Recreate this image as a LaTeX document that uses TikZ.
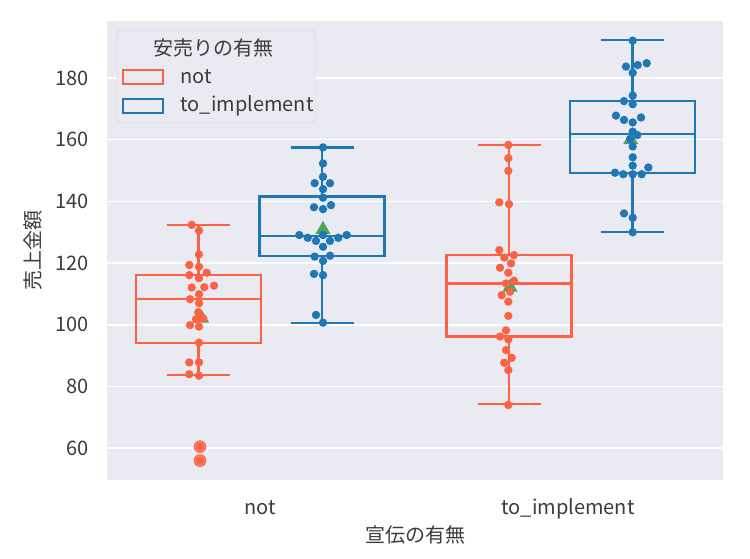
\documentclass[tikz,border=0pt]{standalone}
\usepackage{fontspec}
\setmainfont{Noto Sans CJK JP}
\definecolor{axbg}{RGB}{234,234,242}
\definecolor{txtgray}{RGB}{60,60,60}
\definecolor{notc}{RGB}{252,98,68}
\definecolor{implc}{RGB}{31,119,180}
\definecolor{meanc}{RGB}{80,166,84}

\begin{document}
\begin{tikzpicture}[x=1pt, y=-1pt, font=\fontsize{20}{24}\selectfont, text=txtgray,
    boxline/.style={line width=2.2pt}]
\useasboundingbox (0,0) rectangle (750,559);
\fill[white] (0,0) rectangle (750,559);

% Axes area
\fill[axbg] (107,21) rectangle (723,480);

\begin{scope}[shift={(0,633.3)}, y=3.085pt]
    % Grid and y ticks
    \foreach \v in {60,80,...,180} {
        \draw[white, line width=1.5pt] (107,\v) -- (723,\v);
        \node[anchor=east] (ytick\v) at (92,\v) {\v};
    }

    % Boxes
    \foreach \c/\cx/\lo/\qa/\md/\qb/\hi in {notc/198.5/83.7/94.2/108.3/116.1/132.4,
        implc/322/100.7/122.4/128.9/141.6/157.5,
        notc/509/74.2/96.2/113.4/122.5/158.3,
        implc/632.5/130.0/149.3/161.8/172.5/192.3} {
        \draw[\c, boxline] (\cx-62.5,\qa) rectangle (\cx+62.5,\qb);
        \draw[\c, boxline] (\cx-62.5,\md) -- (\cx+62.5,\md);
        \draw[\c, boxline] (\cx,\qa) -- (\cx,\lo);
        \draw[\c, boxline] (\cx,\qb) -- (\cx,\hi);
        \draw[\c, boxline] (\cx-31.5,\lo) -- (\cx+31.5,\lo);
        \draw[\c, boxline] (\cx-31.5,\hi) -- (\cx+31.5,\hi);
    }

    % Means
    \foreach \mx/\mv in {201.7/102.8, 323/131.6, 510/112.9, 630.7/160.7}
        \fill[meanc] (\mx,\mv) ++(0pt,6.5pt) -- ++(7.5pt,-13pt) -- ++(-15pt,0pt) -- cycle;

    % Outliers
    \foreach \fv in {60.5,56.0} {
        \draw[notc, line width=1pt, fill=notc!75!white] (200,\fv) circle (5.8pt);
        \fill[notc] (200,\fv) circle (4.2pt);
    }

    % Swarm: not / not
    \foreach \px/\pv in {191.7/132.4, 199/130.5, 199/122.8, 189.3/119.4, 199/118.8,
        206.7/116.9, 189.3/116.1, 199/115.1, 191.7/112.1, 204.3/112.2, 214/112.7,
        199/109.9, 190/108.3, 199/107.0, 198.3/104.1, 203.3/102.1, 196/101.8,
        190/99.9, 199/99.4, 199/94.2, 189.3/87.8, 199/87.8, 189.3/84.0, 199/83.5}
        \fill[notc] (\px,\pv) circle (4.2pt);

    % Swarm: not / to_implement
    \foreach \px/\pv in {323/157.5, 323/152.3, 323/148.0, 314.7/145.9, 330/145.9,
        323/144.0, 323/141.2, 314/138.1, 323/137.5, 331/138.8, 299.3/129.1,
        307.7/128.2, 316/127.2, 323/129.1, 330/127.2, 338.3/128.2, 346.7/129.1,
        323/125.3, 314.7/122.1, 323/120.7, 330/122.4, 314/116.5, 323/116.1,
        316/103.2, 323/100.7}
        \fill[implc] (\px,\pv) circle (4.2pt);

    % Swarm: to_implement / not
    \foreach \px/\pv in {508.3/158.3, 508.3/154.0, 508.3/149.9, 499.3/139.7, 509/139.1,
        499.3/124.2, 504.3/121.8, 514/122.6, 511/119.9, 500/118.5, 508.3/116.9,
        514/114.3, 506/113.4, 510/110.7, 501.7/109.6, 508.3/107.5, 508.3/102.9,
        506/98.2, 500/96.2, 508.3/95.3, 506/91.8, 511.7/89.3, 504.3/87.7,
        508.3/85.3, 508.3/74.0}
        \fill[notc] (\px,\pv) circle (4.2pt);

    % Swarm: to_implement / to_implement
    \foreach \px/\pv in {632.7/192.1, 626/183.7, 637.7/184.2, 646.7/184.8, 632.7/181.7,
        632.7/174.3, 624/172.5, 632.7/171.5, 616/167.8, 624/166.4, 632.7/165.6,
        641/167.2, 632.7/162.6, 637.3/161.5, 630/160.2, 632.7/157.8, 632.7/154.3,
        632.7/151.6, 648.3/151.0, 615/149.3, 623.3/148.8, 632.7/148.8, 641.7/148.8,
        624/136.1, 632.7/134.7, 632.7/130.0}
        \fill[implc] (\px,\pv) circle (4.2pt);
\end{scope}

% Legend
\draw[gray!35, fill=axbg, rounded corners=3pt] (117,30) rectangle (315,123);
\node (legtitle) at (213,48) {安売りの有無};
\draw[notc, boxline] (123,70) rectangle (163,84);
\node[anchor=base west] (legnot) at (177,84) {not};
\draw[implc, boxline] (123,99) rectangle (163,113);
\node[anchor=base west] (legimpl) at (177,112) {to\_implement};

% Axis labels
\node[anchor=base] (xtnot) at (260,514) {not};
\node[anchor=base] (xtimpl) at (568,514) {to\_implement};
\node (xlab) at (415,535) {宣伝の有無};
\node[rotate=90] (ylab) at (33,250) {売上金額};
\end{tikzpicture}
\end{document}
